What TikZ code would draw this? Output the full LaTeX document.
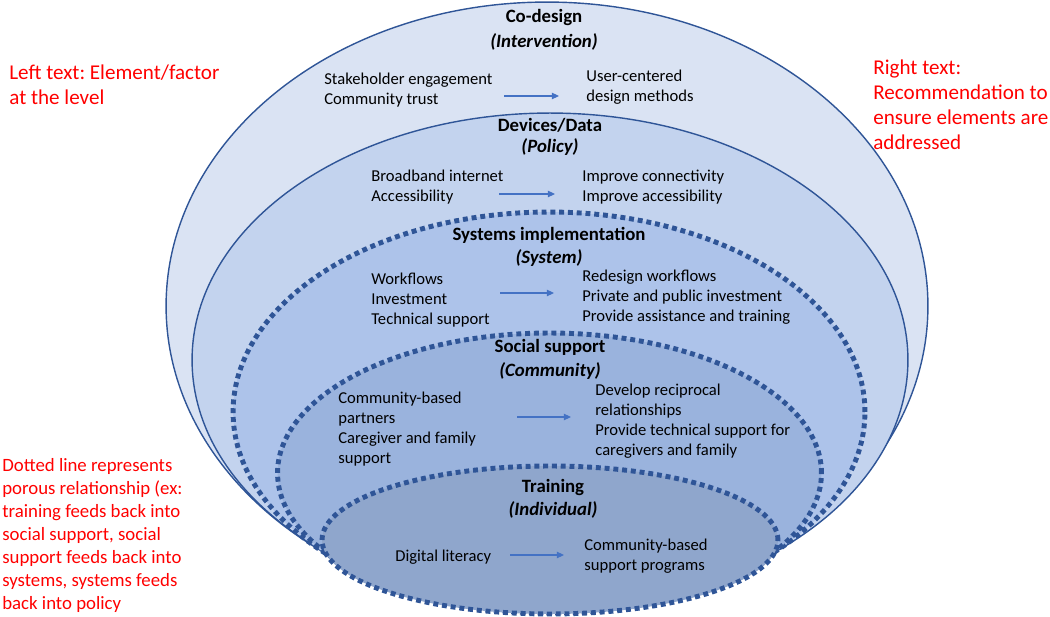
\documentclass[tikz,border=0pt]{standalone}
\usepackage{fontspec}
\setmainfont{Carlito}
\usetikzlibrary{shapes.geometric,arrows.meta}
\definecolor{lineblue}{HTML}{2F5597}
\definecolor{arrowblue}{HTML}{4472C4}
\definecolor{fillA}{HTML}{DAE3F3}
\definecolor{fillB}{HTML}{C3D3EE}
\definecolor{fillC}{HTML}{ADC3EA}
\definecolor{fillD}{HTML}{9AB3DD}
\definecolor{fillE}{HTML}{8FA6CC}
\frenchspacing
\begin{document}
\begin{tikzpicture}[x=0.02cm,y=-0.02cm,
  solidring/.style={ellipse, draw=lineblue, line width=0.8pt, inner sep=0pt},
  dotring/.style={ellipse, draw=lineblue, line width=2.8pt, dash pattern=on 2.8pt off 2.2pt, inner sep=0pt},
  body/.style={font=\fontsize{9.45}{11.38}\selectfont, align=left, inner sep=0pt, anchor=west},
  lvl/.style={font=\fontsize{10.7}{13}\selectfont\bfseries, inner sep=0pt},
  lvlit/.style={font=\fontsize{10.7}{13}\selectfont\bfseries\itshape, inner sep=0pt},
  note/.style={text=red, font=\fontsize{12}{14.2}\selectfont, align=left, inner sep=0pt, anchor=west},
  notesm/.style={text=red, font=\fontsize{10.7}{13.1}\selectfont, align=left, inner sep=0pt, anchor=west},
  flow/.style={draw=arrowblue, line width=0.6pt, -{Triangle[length=4pt,width=3.6pt]}}
]
\useasboundingbox (0,0) rectangle (1050,617);

% nested ellipses
\node[solidring, fill=fillA, minimum width=15.24cm, minimum height=12.16cm] (codesign) at (547,306) {};
\node[solidring, fill=fillB, minimum width=14.32cm, minimum height=9.88cm] (devices) at (550,360) {};
\node[dotring, fill=fillC, minimum width=12.64cm, minimum height=8.0cm] (systems) at (549,412) {};
\node[dotring, fill=fillD, minimum width=10.88cm, minimum height=5.6cm] (social) at (549.5,473) {};
\node[dotring, fill=fillE, minimum width=9.12cm, minimum height=2.96cm] (training) at (550,540) {};

% Co-design
\node[lvl] (cdT) at (544,18) {Co-design};
\node[lvlit] (cdS) at (544,42) {(Intervention)};
\node[body] (cdL) at (324,90) {Stakeholder engagement\\Community trust};
\node[body] (cdR) at (586,87) {User-centered\\design methods};
\coordinate (cdA) at (504,96);
\coordinate (cdB) at (559,96);
\draw[flow] (cdA) -- (cdB);

% Devices/Data
\node[lvl] (dvT) at (550,125) {Devices/Data};
\node[lvlit] (dvS) at (550,147) {(Policy)};
\node[body] (dvL) at (371,187) {Broadband internet\\Accessibility};
\node[body] (dvR) at (582,187) {Improve connectivity\\Improve accessibility};
\coordinate (dvA) at (499,194);
\coordinate (dvB) at (555,194);
\draw[flow] (dvA) -- (dvB);

% Systems implementation
\node[lvl] (syT) at (549,235) {Systems implementation};
\node[lvlit] (syS) at (549,258) {(System)};
\node[body] (syL) at (371,300) {Workflows\\Investment\\Technical support};
\node[body] (syR) at (582,297) {Redesign workflows\\Private and public investment\\Provide assistance and training};
\coordinate (syA) at (500,293);
\coordinate (syB) at (554,293);
\draw[flow] (syA) -- (syB);

% Social support
\node[lvl] (soT) at (550,347) {Social support};
\node[lvlit] (soS) at (550,371) {(Community)};
\node[body] (soL) at (338,429) {Community-based\\partners\\Caregiver and family\\support};
\node[body] (soR) at (595,421) {Develop reciprocal\\relationships\\Provide technical support for\\caregivers and family};
\coordinate (soA) at (517,417);
\coordinate (soB) at (571,417);
\draw[flow] (soA) -- (soB);

% Training
\node[lvl] (trT) at (553,487) {Training};
\node[lvlit] (trS) at (553,510) {(Individual)};
\node[body] (trL) at (395,557) {Digital literacy};
\node[body] (trR) at (584,556) {Community-based\\support programs};
\coordinate (trA) at (510,555);
\coordinate (trB) at (564,555);
\draw[flow] (trA) -- (trB);

% red notes
\node[note] (leftnote) at (9,85) {Left text: Element/factor\\at the level};
\node[note] (rightnote) at (873,105) {Right text:\\Recommendation to\\ensure elements are\\addressed};
\node[notesm] (dotnote) at (2,535.5) {Dotted line represents\\porous relationship (ex:\\training feeds back into\\social support, social\\support feeds back into\\systems, systems feeds\\back into policy};
\end{tikzpicture}
\end{document}
